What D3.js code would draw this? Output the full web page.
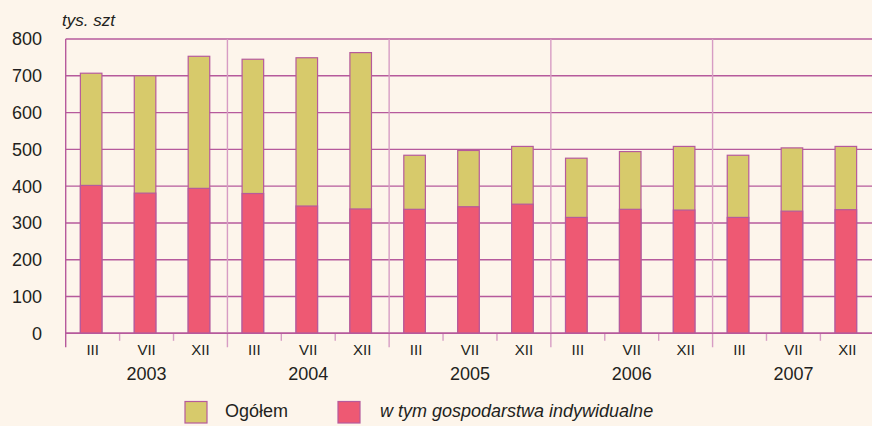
<!DOCTYPE html>
<html><head><meta charset="utf-8">
<script src="https://cdn.jsdelivr.net/npm/d3@7"></script>
<style>
html,body{margin:0;padding:0;background:#fdf5eb;}
svg{display:block;font-family:"Liberation Sans",Arial,sans-serif;}
</style></head><body>
<svg id="c" width="872" height="426"></svg>
<script>
const years = ["2003","2004","2005","2006","2007"];
const months = ["III","VII","XII"];
const total = [707,700,753, 745,749,763, 484,497,508, 476,494,508, 484,504,508];
const individual = [402,381,394, 380,346,338, 337,344,351, 315,337,335, 315,332,336];
const yTicks = [0,100,200,300,400,500,600,700,800];
const seriesNames = ["Ogółem","w tym gospodarstwa indywidualne"];
const unitLabel = "tys. szt";

const cats = [];
years.forEach(y => months.forEach(m => cats.push(y + "-" + m)));

const svg = d3.select("#c");
const L = 65.7, R = 874.3, T = 39, B = 333.3;
const gridCol = "#b65a9c", sepCol = "#d79cc4", textCol = "#231f20";
const colTotal = "#d7ca6b", colInd = "#ee5973";

const x = d3.scaleBand().domain(cats).range([L, R]).paddingInner(0.6).paddingOuter(0.3);
const xYear = d3.scaleBand().domain(years).range([L, R]);
const y = d3.scaleLinear().domain([0, 800]).range([B, T]);

// horizontal gridlines
svg.append("g").selectAll("line").data(yTicks).join("line")
  .attr("x1", L).attr("x2", 872)
  .attr("y1", d => y(d)).attr("y2", d => y(d))
  .attr("stroke", gridCol).attr("stroke-width", 1.4);

// year separators
svg.append("g").selectAll("line").data(years.slice(1)).join("line")
  .attr("x1", d => xYear(d)).attr("x2", d => xYear(d))
  .attr("y1", T).attr("y2", B + 14)
  .attr("stroke", sepCol).attr("stroke-width", 1.4);

// left axis line
svg.append("line").attr("x1", L).attr("x2", L).attr("y1", T).attr("y2", B + 14)
  .attr("stroke", gridCol).attr("stroke-width", 1.4);

// month ticks
const monthBounds = cats.map(c => x(c) - x.step() * 0.3);
svg.append("g").selectAll("line").data(cats.filter((c, i) => i % 3 !== 0)).join("line")
  .attr("x1", c => x(c) - x.step()*0.3).attr("x2", c => x(c) - x.step()*0.3)
  .attr("y1", B).attr("y2", B + 7.5)
  .attr("stroke", sepCol).attr("stroke-width", 1.4);

// bars
const shift = -1.5;
const bw = x.bandwidth();
svg.append("g").selectAll("rect").data(cats).join("rect")
  .attr("x", c => x(c) + shift).attr("width", bw)
  .attr("y", (c, i) => y(total[i])).attr("height", (c, i) => y(0) - y(total[i]))
  .attr("fill", colTotal).attr("stroke", gridCol).attr("stroke-width", 1.2);
svg.append("g").selectAll("rect").data(cats).join("rect")
  .attr("x", c => x(c) + shift).attr("width", bw)
  .attr("y", (c, i) => y(individual[i])).attr("height", (c, i) => y(0) - y(individual[i]))
  .attr("fill", colInd).attr("stroke", gridCol).attr("stroke-width", 1.2);

// baseline redraw
svg.append("line").attr("x1", L).attr("x2", 872).attr("y1", B).attr("y2", B)
  .attr("stroke", gridCol).attr("stroke-width", 1.4);

// y tick labels
svg.append("g").selectAll("text").data(yTicks).join("text")
  .attr("x", 42).attr("y", d => y(d)).attr("dy", "0.36em")
  .attr("text-anchor", "end").attr("font-size", 18).attr("fill", textCol)
  .text(d => d);

// unit label
svg.append("text").attr("x", 62).attr("y", 26).attr("font-size", 17)
  .attr("font-style", "italic").attr("fill", textCol).text(unitLabel);

// month labels
svg.append("g").selectAll("text").data(cats).join("text")
  .attr("x", c => x(c) + bw/2).attr("y", 355)
  .attr("text-anchor", "middle").attr("font-size", 15).attr("fill", textCol)
  .text(c => c.split("-")[1]);

// year labels
svg.append("g").selectAll("text").data(years).join("text")
  .attr("x", d => xYear(d) + xYear.bandwidth()/2).attr("y", 380)
  .attr("text-anchor", "middle").attr("font-size", 18).attr("fill", textCol)
  .text(d => d);

// legend
const leg = [{name: seriesNames[0], col: colTotal, x: 185, tx: 225, it: false},
             {name: seriesNames[1], col: colInd, x: 338, tx: 380, it: true}];
const lg = svg.append("g");
leg.forEach(l => {
  lg.append("rect").attr("x", l.x).attr("y", 401.5).attr("width", 22).attr("height", 21.5)
    .attr("fill", l.col).attr("stroke", gridCol).attr("stroke-width", 1.2);
  lg.append("text").attr("x", l.tx).attr("y", 416.5).attr("font-size", 18)
    .attr("font-style", l.it ? "italic" : "normal").attr("fill", textCol).text(l.name);
});
</script>
</body></html>
